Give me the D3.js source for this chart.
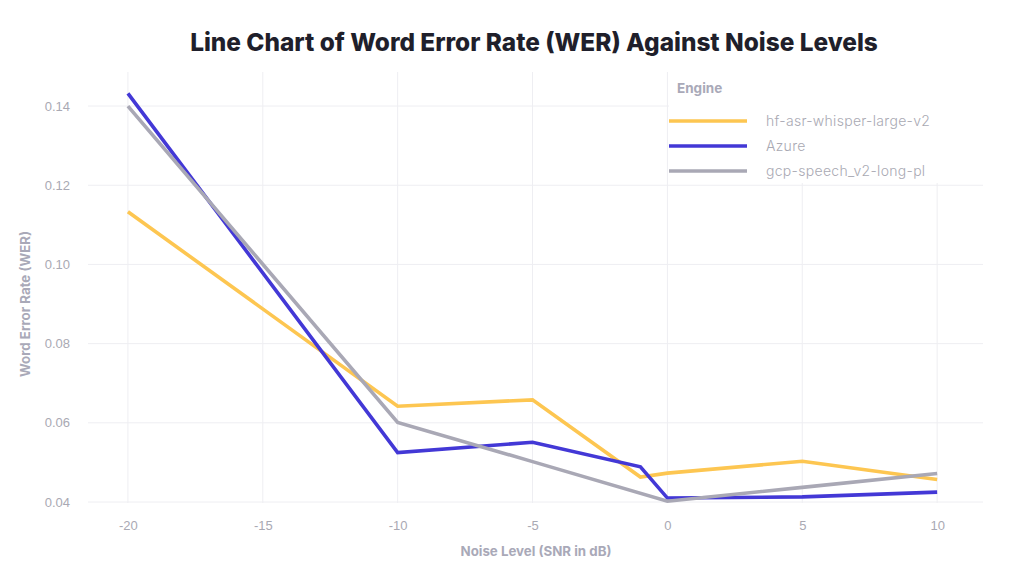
<!DOCTYPE html>
<html><head><meta charset="utf-8">
<script src="https://cdn.jsdelivr.net/npm/d3@7"></script>
<style>
body{margin:0;background:#fff;}
svg{display:block;font-family:Inter, "Noto Sans", sans-serif;}
</style></head>
<body><svg id="c" width="1024" height="576"></svg>
<script>
const seriesNames = ["hf-asr-whisper-large-v2", "Azure", "gcp-speech_v2-long-pl"];
const seriesColors = ["#fdc651", "#4338d6", "#a9a8b5"];
const whisperX = [-20, -10, -5, -1, 0, 5, 10];
const whisperY = [0.1133, 0.0642, 0.0658, 0.0463, 0.0473, 0.0503, 0.0457];
const azureX = [-20, -10, -5, -1, 0, 5, 10];
const azureY = [0.1432, 0.0525, 0.0551, 0.0489, 0.0410, 0.0413, 0.0425];
const gcpX = [-20, -10, -5, 0, 5, 10];
const gcpY = [0.1400, 0.0601, 0.0502, 0.0402, 0.0437, 0.0472];
const xTicks = [-20, -15, -10, -5, 0, 5, 10];
const yTicks = [0.04, 0.06, 0.08, 0.10, 0.12, 0.14];

const series = [
  {name: seriesNames[0], color: seriesColors[0], pts: whisperX.map((x,i)=>[x, whisperY[i]])},
  {name: seriesNames[1], color: seriesColors[1], pts: azureX.map((x,i)=>[x, azureY[i]])},
  {name: seriesNames[2], color: seriesColors[2], pts: gcpX.map((x,i)=>[x, gcpY[i]])}
];

const svg = d3.select("#c");
const L = 88, R = 983, T = 72, B = 503;
const x = d3.scaleLinear().domain([-21.48, 11.7]).range([L, R]);
const y = d3.scaleLinear().domain([0.03975, 0.1486]).range([B, T]);

// gridlines
const g = svg.append("g");
g.selectAll(".hg").data(yTicks).enter().append("line")
  .attr("x1", L).attr("x2", R).attr("y1", d=>y(d)).attr("y2", d=>y(d))
  .attr("stroke", "#eeeef2").attr("stroke-width", 1);
g.selectAll(".vg").data(xTicks).enter().append("line")
  .attr("y1", T).attr("y2", B).attr("x1", d=>x(d)).attr("x2", d=>x(d))
  .attr("stroke", "#eeeef2").attr("stroke-width", 1);

// axes
const xAxis = d3.axisBottom(x).tickValues(xTicks).tickSize(0).tickPadding(0).tickFormat(d => String(d));
const xa = svg.append("g").attr("transform", `translate(0,${B + 22})`).call(xAxis);
const yAxis = d3.axisLeft(y).tickValues(yTicks).tickSize(0).tickPadding(0).tickFormat(d3.format(".2f"));
const ya = svg.append("g").attr("transform", `translate(${L - 18},0)`).call(yAxis);
[xa, ya].forEach(a => {
  a.select(".domain").remove();
  a.selectAll("text").attr("fill", "#a9a9b3").attr("font-size", 13).attr("font-weight", 300);
});
xa.selectAll("text").attr("dy", "0.35em");

// axis titles
svg.append("text").attr("x", 536).attr("y", 556).attr("text-anchor", "middle")
  .attr("fill", "#a9a9b8").attr("font-size", 13.3).attr("font-weight", 700).text("Noise Level (SNR in dB)");
svg.append("text").attr("transform", `translate(30,304) rotate(-90)`).attr("text-anchor", "middle")
  .attr("fill", "#a9a9b8").attr("font-size", 13.3).attr("font-weight", 700).text("Word Error Rate (WER)");

// title
svg.append("text").attr("x", 534).attr("y", 51).attr("text-anchor", "middle")
  .attr("fill", "#1f1f2b").attr("font-size", 24.4).attr("font-weight", 800).text("Line Chart of Word Error Rate (WER) Against Noise Levels");

// lines
const line = d3.line().x(d => x(d[0])).y(d => y(d[1]));
svg.append("g").selectAll("path").data(series).enter().append("path")
  .attr("d", d => line(d.pts)).attr("fill", "none").attr("stroke", d => d.color)
  .attr("stroke-width", 3.6).attr("stroke-linejoin", "miter");

// legend
const lg = svg.append("g");
lg.append("rect").attr("x", x(0) + 1.5).attr("y", T).attr("width", R - x(0) + 20).attr("height", 111).attr("fill", "#fff");
lg.append("text").attr("x", 677).attr("y", 93).attr("fill", "#a9a9b8").attr("font-size", 13.5).attr("font-weight", 700).text("Engine");
const items = lg.selectAll(".it").data(series).enter().append("g")
  .attr("transform", (d, i) => `translate(669,${121 + i * 25})`);
items.append("line").attr("x1", 0).attr("x2", 78).attr("stroke", d => d.color).attr("stroke-width", 3.6);
items.append("text").attr("x", 97).attr("dy", "0.35em").attr("fill", "#a9a9b3").attr("font-size", 14).attr("letter-spacing", 0.3).attr("font-weight", 300).text(d => d.name);
</script></body></html>
